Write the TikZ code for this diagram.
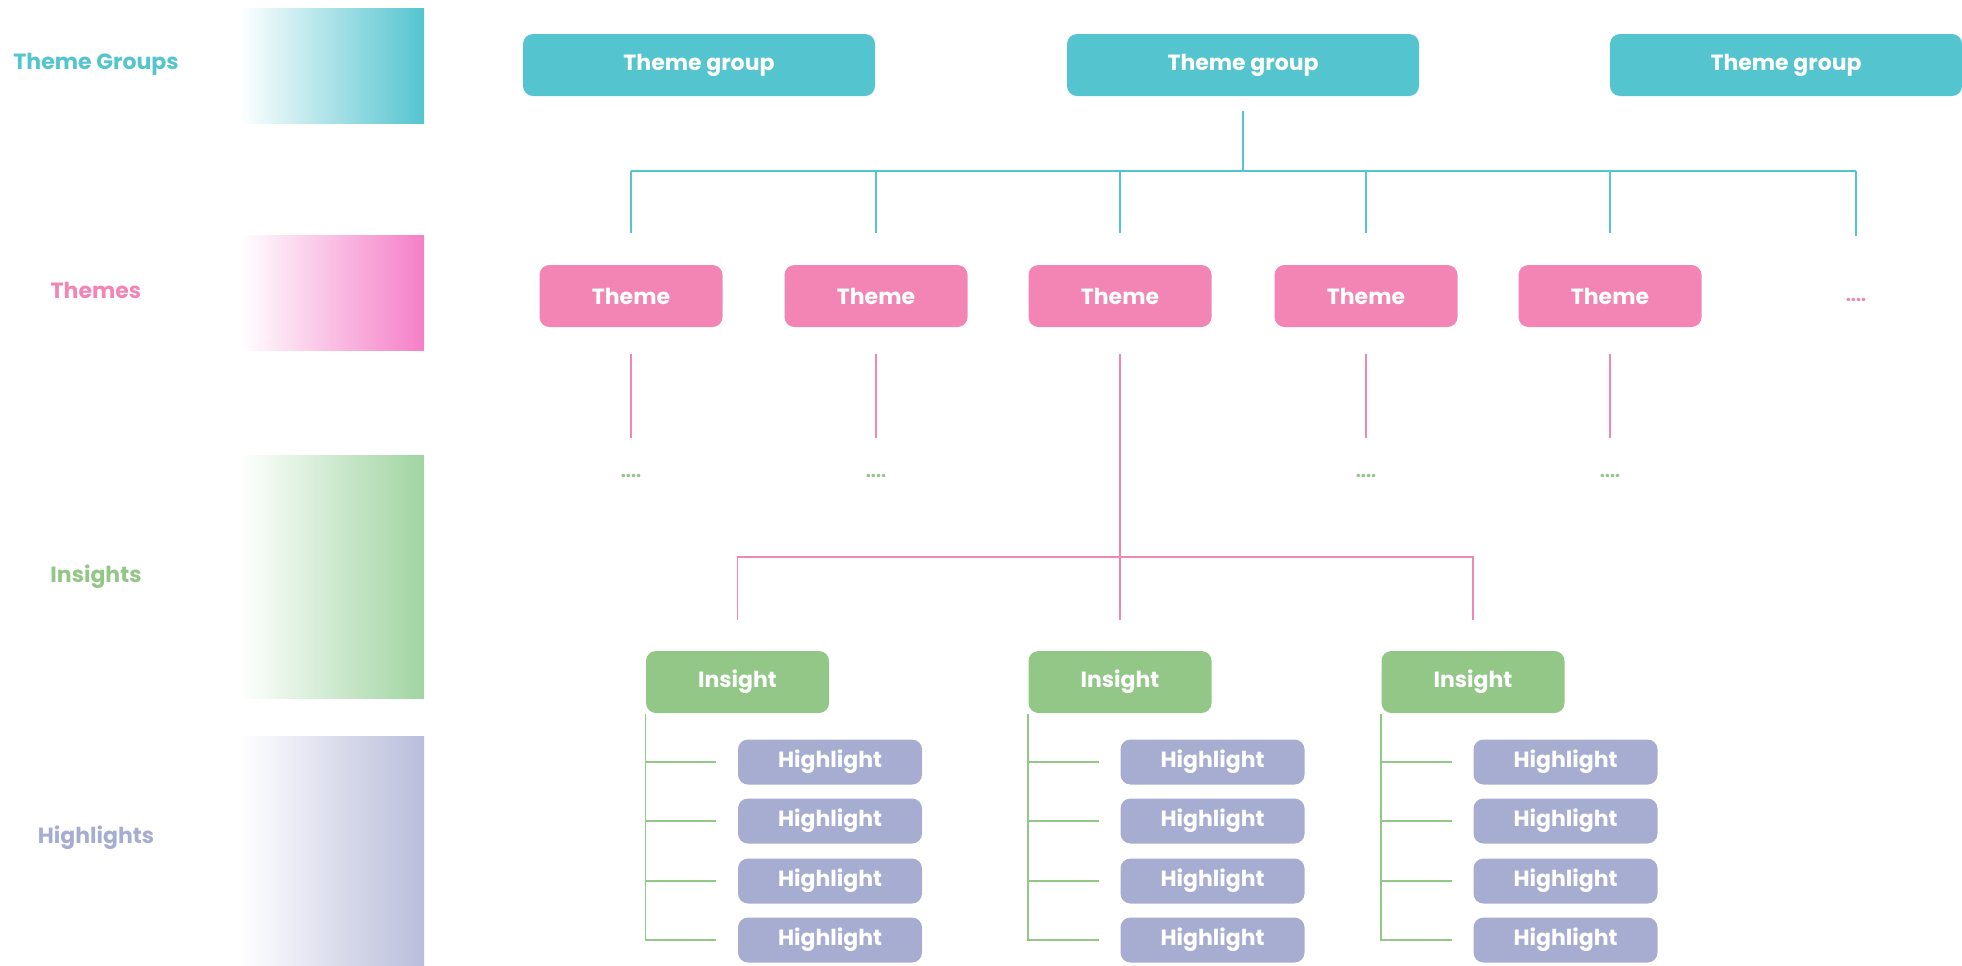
\documentclass[tikz,border=0pt]{standalone}
\usepackage{fontspec}
\setmainfont{Poppins}
\definecolor{tgcol}{HTML}{54C4CF}
\definecolor{thcol}{HTML}{F285B3}
\definecolor{incol}{HTML}{92C788}
\definecolor{hlcol}{HTML}{A7ADD1}
\definecolor{thbar}{HTML}{F57FC8}
\definecolor{inbar}{HTML}{A0D4A2}
\definecolor{hlbar}{HTML}{B9BDDA}
\begin{document}
\begin{tikzpicture}[x=0.5pt,y=-0.5pt,
    box/.style={rounded corners=5pt, text=white, inner sep=0pt,
      font=\bfseries\fontsize{11}{13}\selectfont},
    groupbox/.style={box, fill=tgcol, minimum width=176pt, minimum height=31pt},
    themebox/.style={box, fill=thcol, minimum width=91.5pt, minimum height=31pt},
    insightbox/.style={box, fill=incol, minimum width=91.5pt, minimum height=31pt},
    hlbox/.style={box, fill=hlcol, minimum width=92pt, minimum height=22.5pt},
    lvl/.style={font=\bfseries\fontsize{11}{13}\selectfont},
    dots/.style={inner sep=0pt, font=\bfseries\fontsize{9}{10}\selectfont},
    every path/.style={line width=0.7pt}]
    \useasboundingbox (0,0) rectangle (1962,965);
    % level bars
    \shade[left color=white, right color=tgcol] (240,8) rectangle (424,123);
    \shade[left color=white, right color=thbar] (240,235) rectangle (424,350);
    \shade[left color=white, right color=inbar] (240,455) rectangle (424,698);
    \shade[left color=white, right color=hlbar] (240,736) rectangle (424,965);
    \node[lvl, text=tgcol] (lgroups) at (96,64) {Theme Groups};
    \node[lvl, text=thcol] (lthemes) at (96,290) {Themes};
    \node[lvl, text=incol] (linsights) at (96,577) {Insights};
    \node[lvl, text=hlcol] (lhighlights) at (96,838) {Highlights};
    % theme groups
    \node[groupbox] (tg1) at (699,65) {Theme group};
    \node[groupbox] (tg2) at (1243,65) {Theme group};
    \node[groupbox] (tg3) at (1786,65) {Theme group};
    % themes
    \foreach \x [count=\i] in {631,876,1120,1366,1610}
        \node[themebox] (th\i) at (\x,296) {Theme};
    \node[dots, text=thcol] (thmore) at (1856,300) {....};
    \coordinate (tgjoin) at (1243,171);
    \draw[tgcol] ([yshift=-7pt]tg2.south) -- (tgjoin);
    \draw[tgcol] (tgjoin -| th1) -- (tgjoin -| thmore);
    \foreach \i in {1,...,5}
        \draw[tgcol, shorten >=15.5pt] (tgjoin -| th\i) -- (th\i);
    \draw[tgcol, shorten >=31pt] (tgjoin -| thmore) -- (thmore);
    % collapsed themes
    \foreach \i in {1,2,4,5}{
        \node[dots, text=incol] (d\i) at (th\i |- 0,476) {....};
        \draw[thcol, shorten >=18pt] ([yshift=-13pt]th\i.south) -- (d\i);
    }
    % insights and highlights
    \foreach \c [count=\i] in {737.5,1120,1473}{
        \node[insightbox] (in\i) at (\c,682) {Insight};
        \foreach \y [count=\j] in {762,821,881,940}
            \node[hlbox] (hl\i\j) at (\c+92.5,\y) {Highlight};
        \draw[incol] (in\i.south west) |- ([xshift=-10.5pt]hl\i4.west);
        \foreach \j in {1,2,3}
            \draw[incol] (in\i.south west |- hl\i\j.west) -- ([xshift=-10.5pt]hl\i\j.west);
    }
    \coordinate (injoin) at (1120,557);
    \draw[thcol] ([yshift=-13pt]th3.south) -- ([yshift=15pt]in2.north);
    \draw[thcol] ([yshift=15pt]in1.north) |- (injoin -| in3) -- ([yshift=15pt]in3.north);
\end{tikzpicture}
\end{document}
